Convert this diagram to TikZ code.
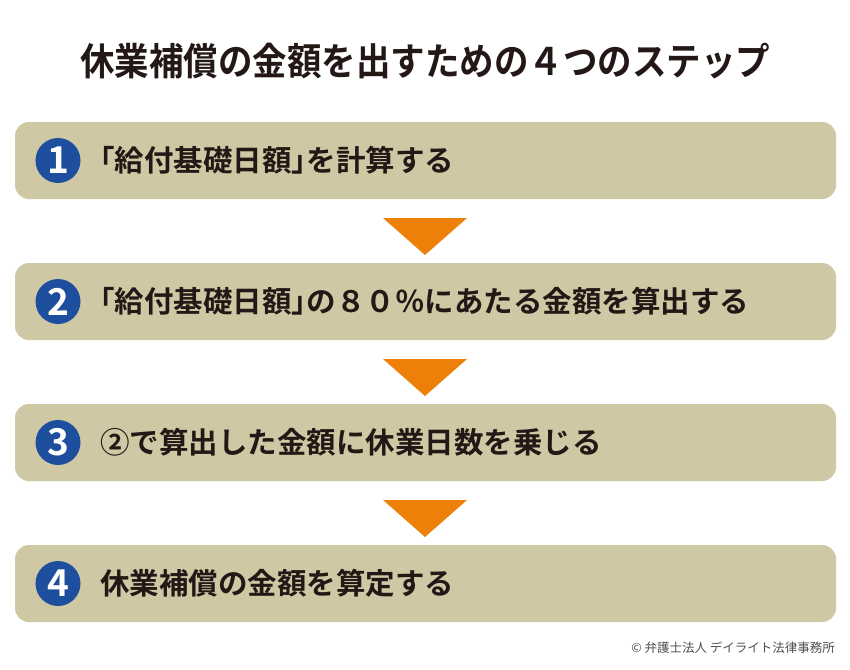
\documentclass[tikz,border=0pt]{standalone}
\usepackage{fontspec}
\setmainfont{Noto Sans CJK JP}[BoldFont={* Bold}]
\newfontfamily\jpb{Noto Sans CJK JP Bold}
\definecolor{boxtan}{RGB}{207,200,164}
\definecolor{numblue}{RGB}{30,78,158}
\definecolor{arroworange}{RGB}{236,128,8}
\definecolor{txtdark}{RGB}{35,24,21}
\definecolor{footgray}{RGB}{80,80,80}
\newcommand{\lbr}{\kern-0.5em「}
\newcommand{\rbr}{」\kern-0.5em}
\tikzset{
  stepbox/.style={fill=boxtan, draw=none, rounded corners=14pt, minimum width=821pt, minimum height=77pt, inner sep=0pt},
  numcirc/.style={circle, fill=numblue, draw=none, minimum size=45pt, inner sep=0pt, text=white, font=\jpb\fontsize{37}{37}\selectfont},
  steptext/.style={anchor=west, inner sep=0pt, text=txtdark, font=\jpb\fontsize{29.5}{32}\selectfont},
  downtri/.style={fill=arroworange, draw=none},
}
\begin{document}
\begin{tikzpicture}[x=1pt,y=-1pt]
\useasboundingbox (0,0) rectangle (850,669);
\fill[white] (0,0) rectangle (850,669);
\node[inner sep=0pt, text=txtdark, font=\jpb\fontsize{34.5}{36}\selectfont] (title) at (425,61) {\scalebox{1}[1.1]{休業補償の金額を出すための４つのステップ}};
% boxes
\node[stepbox] (b1) at (425.5,160.5) {};
\node[stepbox] (b2) at (425.5,301.5) {};
\node[stepbox] (b3) at (425.5,442.5) {};
\node[stepbox] (b4) at (425.5,583.5) {};
% circles
\node[numcirc] (c1) at (58,160.5) {1};
\node[numcirc] (c2) at (58,301.5) {2};
\node[numcirc] (c3) at (58,442.5) {3};
\node[numcirc] (c4) at (58,583.5) {4};
% texts
\node[steptext] (t1) at (100,160.5) {\lbr 給付基礎日額\rbr を計算する};
\node[steptext] (t2) at (100,301.5) {\lbr 給付基礎日額\rbr の８０％にあたる金額を算出する};
\node[steptext] (t3) at (100,442.5) {②で算出した金額に休業日数を乗じる};
\node[steptext] (t4) at (100,583.5) {休業補償の金額を算定する};
% arrows
\coordinate (a1) at (425,218);
\coordinate (a2) at (425,359);
\coordinate (a3) at (425,500);
\foreach \a in {a1,a2,a3}{
  \fill[downtri] ([xshift=-42pt]\a) -- ([xshift=42pt]\a) -- ([yshift=-37pt]\a) -- cycle;
}
% footer
\node[anchor=east, inner sep=0pt, text=footgray, font=\fontsize{12.5}{14}\selectfont] (foot) at (835,648) {© 弁護士法人 デイライト法律事務所};
\end{tikzpicture}
\end{document}
